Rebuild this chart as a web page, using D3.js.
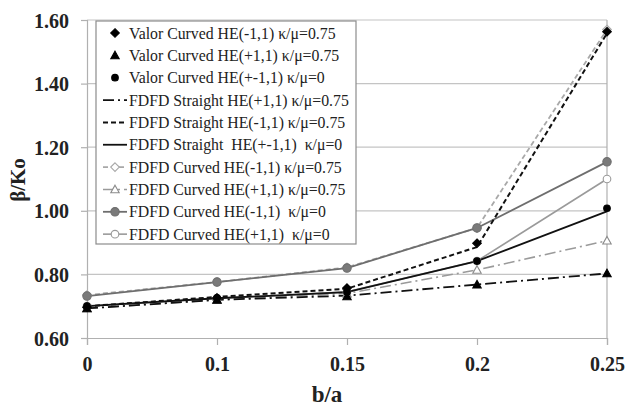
<!DOCTYPE html>
<html><head><meta charset="utf-8">
<script src="https://cdn.jsdelivr.net/npm/d3@7"></script>
<style>
body{margin:0;background:#fff;}
svg{display:block;}
svg text{font-family:"Liberation Serif","Times New Roman",serif;}
</style></head>
<body>
<svg id="c" width="625" height="408"></svg>
<script>
const categories = ["0","0.1","0.15","0.2","0.25"];
const yTicks = [0.6,0.8,1.0,1.2,1.4,1.6];
const seriesNames = [
  "Valor Curved HE(-1,1) κ/μ=0.75",
  "Valor Curved HE(+1,1) κ/μ=0.75",
  "Valor Curved HE(+-1,1) κ/μ=0",
  "FDFD Straight HE(+1,1) κ/μ=0.75",
  "FDFD Straight HE(-1,1) κ/μ=0.75",
  "FDFD Straight  HE(+-1,1)  κ/μ=0",
  "FDFD Curved HE(-1,1) κ/μ=0.75",
  "FDFD Curved HE(+1,1) κ/μ=0.75",
  "FDFD Curved HE(-1,1)  κ/μ=0",
  "FDFD Curved HE(+1,1)  κ/μ=0"
];
const valorMinus075 = [0.697,0.726,0.757,0.898,1.563];
const valorPlus075  = [0.693,0.720,0.731,0.768,0.803];
const valorPM0      = [0.700,0.726,0.745,0.842,1.008];
const straightPlus075  = [0.693,0.720,0.733,0.768,0.803];
const straightMinus075 = [0.700,0.729,0.755,0.886,1.558];
const straightPM0      = [0.700,0.725,0.744,0.842,0.998];
const curvedMinus075 = [0.735,0.776,0.822,0.946,1.570];
const curvedPlus075  = [0.693,0.720,0.740,0.814,0.906];
const curvedMinus0   = [0.732,0.776,0.820,0.946,1.154];
const curvedPlus0    = [0.700,0.725,0.745,0.842,1.100];

const seriesValues = [valorMinus075,valorPlus075,valorPM0,straightPlus075,straightMinus075,straightPM0,curvedMinus075,curvedPlus075,curvedMinus0,curvedPlus0];

const styles = [
  {line:null, marker:"diamond", fill:"#000", mstroke:"#000"},
  {line:null, marker:"triangle", fill:"#000", mstroke:"#000"},
  {line:null, marker:"circle", fill:"#000", mstroke:"#000", r:3.3},
  {line:"#111", dash:"11,4,2,4", w:1.8, marker:null},
  {line:"#111", dash:"5,3", w:2, marker:null},
  {line:"#111", dash:null, w:1.8, marker:null},
  {line:"#a8a8a8", dash:"5,3", w:1.8, marker:"diamond", fill:"#fff", mstroke:"#a8a8a8"},
  {line:"#9a9a9a", dash:"11,4,2,4", w:1.6, marker:"triangle", fill:"#fff", mstroke:"#8a8a8a"},
  {line:"#6e6e6e", dash:null, w:1.8, marker:"circle", fill:"#7a7a7a", mstroke:"#6e6e6e", r:4.2},
  {line:"#9a9a9a", dash:null, w:1.6, marker:"circle", fill:"#fff", mstroke:"#9a9a9a", r:3.8}
];

const svg = d3.select("#c");
const L=87, R=607, T=20, B=338;
const x = d3.scalePoint().domain(categories).range([L,R]);
const y = d3.scaleLinear().domain([0.6,1.6]).range([B,T]);

svg.append("g").selectAll("line").data(yTicks.slice(1)).join("line")
  .attr("x1",L).attr("x2",R).attr("y1",d=>y(d)).attr("y2",d=>y(d))
  .attr("stroke","#c4c4c4").attr("stroke-width",1.2);
svg.append("line").attr("x1",R).attr("x2",R).attr("y1",T).attr("y2",B).attr("stroke","#b0b0b0").attr("stroke-width",1.2);

const yAxis = d3.axisLeft(y).tickValues(yTicks).tickFormat(d3.format(".2f")).tickSize(6).tickPadding(12);
const gy = svg.append("g").attr("transform",`translate(${L},0)`).call(yAxis);
const xAxis = d3.axisBottom(x).tickSize(7).tickPadding(12);
const gx = svg.append("g").attr("transform",`translate(0,${B})`).call(xAxis);
[gx,gy].forEach(g=>{
  g.attr("font-family",null);
  g.select(".domain").attr("stroke","#b0b0b0").attr("stroke-width",1.2);
  g.selectAll(".tick line").attr("stroke","#b0b0b0").attr("stroke-width",1.2);
  g.selectAll("text").style("font-family","'Liberation Serif', serif").attr("font-weight","bold").attr("font-size",20).attr("fill","#222");
});
gy.selectAll(".tick text").attr("dy","0.35em");
gx.selectAll(".tick text").attr("dy","0.71em");

svg.append("text").attr("x",327).attr("y",402).attr("text-anchor","middle")
  .attr("font-weight","bold").attr("font-size",23).attr("fill","#222").text("b/a");
svg.append("text").attr("transform","translate(25,180) rotate(-90)").attr("text-anchor","middle")
  .attr("font-weight","bold").attr("font-size",21).attr("fill","#222").text("β/Ko");

function drawMarker(g,type,cx,cy,st){
  if(type==="circle"){
    g.append("circle").attr("cx",cx).attr("cy",cy).attr("r",st.r||3.5)
      .attr("fill",st.fill).attr("stroke",st.mstroke).attr("stroke-width",1.1);
  } else if(type==="diamond"){
    const h=4.3;
    g.append("path").attr("d",`M${cx},${cy-h}L${cx+h},${cy}L${cx},${cy+h}L${cx-h},${cy}Z`)
      .attr("fill",st.fill).attr("stroke",st.mstroke).attr("stroke-width",1.1);
  } else {
    const h=4.2;
    g.append("path").attr("d",`M${cx},${cy-h}L${cx+h},${cy+h*0.8}L${cx-h},${cy+h*0.8}Z`)
      .attr("fill",st.fill).attr("stroke",st.mstroke).attr("stroke-width",1.1);
  }
}

const line = d3.line().x((d,i)=>x(categories[i])).y(d=>y(d));
const plot = svg.append("g");
const order=[7,6,9,8,3,5,4,0,1,2];
order.forEach(k=>{
  const st=styles[k];
  if(st.line){
    plot.append("path").attr("d",line(seriesValues[k])).attr("fill","none")
      .attr("stroke",st.line).attr("stroke-width",st.w).attr("stroke-dasharray",st.dash);
  }
});
order.forEach(k=>{
  const st=styles[k];
  if(st.marker){
    seriesValues[k].forEach((v,i)=>drawMarker(plot,st.marker,x(categories[i]),y(v),st));
  }
});

const lg = svg.append("g");
lg.append("rect").attr("x",96).attr("y",21).attr("width",260).attr("height",223)
  .attr("fill","#fff").attr("stroke","#8c8c8c").attr("stroke-width",1.2);
seriesNames.forEach((name,k)=>{
  const cy = 33 + k*22.35;
  const st=styles[k];
  if(st.line){
    lg.append("line").attr("x1",103).attr("x2",127).attr("y1",cy).attr("y2",cy)
      .attr("stroke",st.line).attr("stroke-width",st.w).attr("stroke-dasharray",st.dash);
  }
  if(st.marker) drawMarker(lg,st.marker,115,cy,st);
  lg.append("text").attr("x",129).attr("y",cy).attr("dy","0.35em")
    .attr("font-size",15.8).attr("fill","#222").style("white-space","pre").text(name);
});
</script>
</body></html>
